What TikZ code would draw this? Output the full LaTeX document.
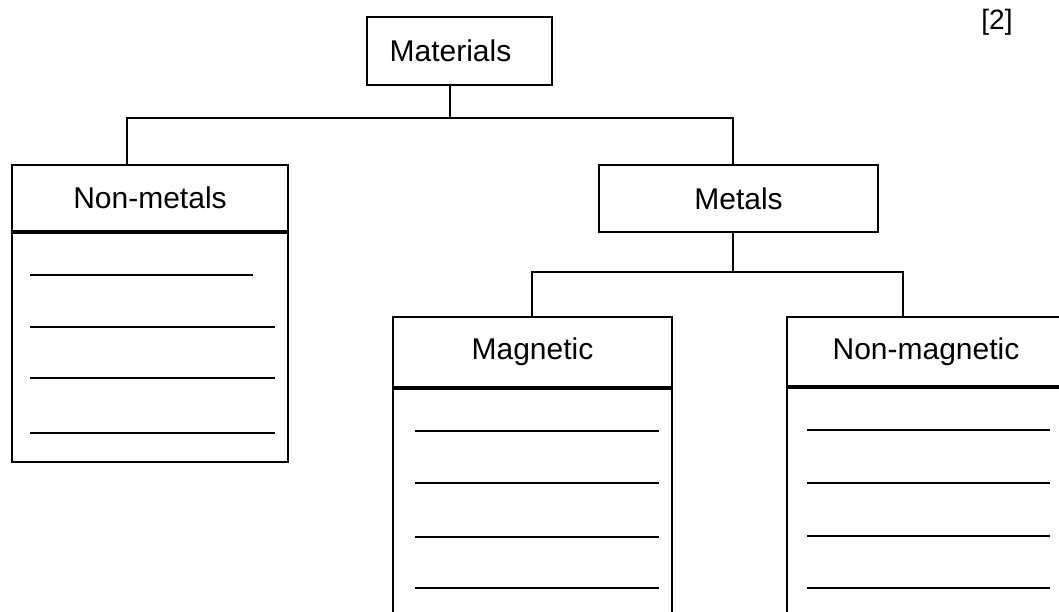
\documentclass[tikz,border=0pt]{standalone}
\usepackage{fontspec}
\setmainfont{Liberation Sans}
\usetikzlibrary{calc}
\begin{document}
\begin{tikzpicture}[x=1pt,y=-1pt,
  box/.style={draw=black, line width=1.8pt, rectangle, inner sep=0pt,
    font=\fontsize{30}{36}\selectfont, text=black},
  conn/.style={draw=black, line width=1.8pt},
  ansline/.style={draw=black, line width=1.3pt}]
\useasboundingbox (0,0) rectangle (1059,612);
\clip (0,0) rectangle (1059,612);

% top
\node[box, minimum width=185pt, minimum height=68pt] (mat) at (459.5,51) {\hspace*{-18pt}Materials};
\node[font=\fontsize{28}{32}\selectfont] (mark) at (997,22) {[2]};

% second level
\node[box, minimum width=276pt, minimum height=66pt] (nonmet) at (150,198) {Non-metals};
\node[box, minimum width=276pt, minimum height=229pt, anchor=north] (nonmetlist) at (nonmet.south) {};
\node[box, minimum width=279pt, minimum height=67pt] (met) at (738.5,198.5) {Metals};

% third level
\node[box, minimum width=279pt, minimum height=70pt] (mag) at (532.5,352) {Magnetic};
\node[box, minimum width=279pt, minimum height=240pt, anchor=north] (maglist) at (mag.south) {};
\node[box, minimum width=278pt, minimum height=69pt] (nonmag) at (926,351.5) {Non-magnetic};
\node[box, minimum width=278pt, minimum height=240pt, anchor=north] (nonmaglist) at (nonmag.south) {};

% connectors level 1
\coordinate (j1) at (450,118);
\coordinate (b1) at (127,118);
\coordinate (b2) at (733,118);
\draw[conn] (j1 |- mat.south) -- (j1);
\draw[conn] (b1 |- nonmet.north) -- (b1) -- (b2) -- (b2 |- met.north);

% connectors level 2
\coordinate (j2) at (733,272);
\coordinate (c1) at (532,272);
\coordinate (c2) at (903,272);
\draw[conn] (j2 |- met.south) -- (j2);
\draw[conn] (c1 |- mag.north) -- (c1) -- (c2) -- (c2 |- nonmag.north);

% answer lines: non-metals
\draw[ansline] (30,275) -- (253,275);
\draw[ansline] (30,327) -- (275,327);
\draw[ansline] (30,378) -- (275,378);
\draw[ansline] (30,433) -- (275,433);

% answer lines: magnetic
\foreach \yy in {431,483,537,588}
  \draw[ansline] (415,\yy) -- (659,\yy);

% answer lines: non-magnetic
\foreach \yy in {430,483,536,588}
  \draw[ansline] (807,\yy) -- (1050,\yy);
\end{tikzpicture}
\end{document}
